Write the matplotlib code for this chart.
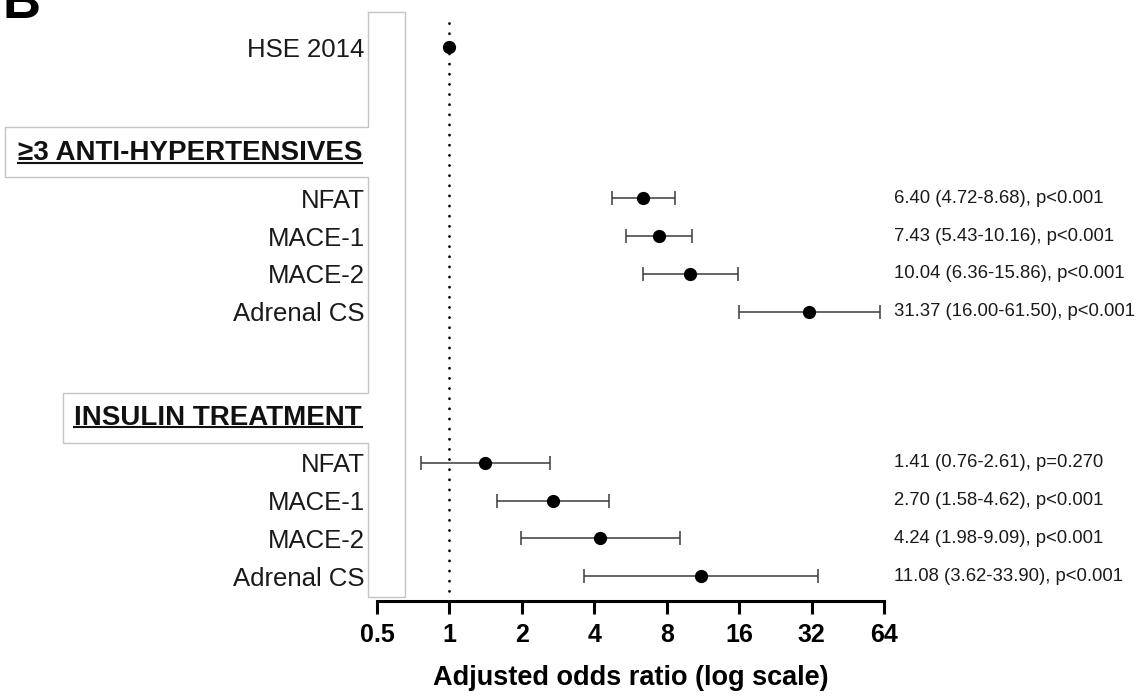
import numpy as np
import matplotlib
matplotlib.use('Agg')
import matplotlib.pyplot as plt
from matplotlib.lines import Line2D

plt.rcParams['font.family'] = ['Liberation Sans', 'DejaVu Sans']

# rows (top to bottom)
row_labels = ['HSE 2014',
              'NFAT', 'MACE-1', 'MACE-2', 'Adrenal CS',
              'NFAT', 'MACE-1', 'MACE-2', 'Adrenal CS']
row_pos = [0, 4, 5, 6, 7, 11, 12, 13, 14]
odds = [1.0, 6.40, 7.43, 10.04, 31.37, 1.41, 2.70, 4.24, 11.08]
ci_low = [1.0, 4.72, 5.43, 6.36, 16.00, 0.76, 1.58, 1.98, 3.62]
ci_high = [1.0, 8.68, 10.16, 15.86, 61.50, 2.61, 4.62, 9.09, 33.90]
p_text = ['', 'p<0.001', 'p<0.001', 'p<0.001', 'p<0.001',
          'p=0.270', 'p<0.001', 'p<0.001', 'p<0.001']
headers = ['≥3 ANTI-HYPERTENSIVES', 'INSULIN TREATMENT']
header_pos = [3, 10]
xticks = [0.5, 1, 2, 4, 8, 16, 32, 64]

W, H = 1142, 696
fig = plt.figure(figsize=(W / 100, H / 100), dpi=100)
ax = fig.add_axes([377 / W, 1 - 601 / H, (884 - 377) / W, (601 - 12) / H])
axw = 884 - 377


def px(x, y):
    return x / W, 1 - y / H


# grey label box outline
box = [(368, 12), (405, 12), (405, 597), (368, 597), (368, 443), (63, 443),
       (63, 393), (368, 393), (368, 177), (5, 177), (5, 127), (368, 127), (368, 12)]
bx, by = zip(*[px(x, y) for x, y in box])
fig.add_artist(Line2D(bx, by, color='#c4c4c4', lw=1.0, transform=fig.transFigure))

ax.set_xscale('log', base=2)
ax.set_xlim(0.5, 64)
ax.set_ylim(14.66, -0.93)

ax.plot([1, 1], [-0.65, 14.45], color='black', lw=2.0,
        linestyle=(0, (0.05, 3.6)), dash_capstyle='round', zorder=1)

odds = np.array(odds)
err = np.array([odds - np.array(ci_low), np.array(ci_high) - odds])
ax.errorbar(odds[1:], row_pos[1:], xerr=err[:, 1:], fmt='none', ecolor='#3a3a3a',
            elinewidth=1.1, capsize=5, capthick=1.1, zorder=2)
ax.plot(odds, row_pos, 'o', color='black', markersize=8.5, zorder=3)

for i in range(1, len(odds)):
    ax.text(1 + 10 / axw, row_pos[i],
            f'{odds[i]:.2f} ({ci_low[i]:.2f}-{ci_high[i]:.2f}), {p_text[i]}',
            transform=ax.get_yaxis_transform(), va='center', ha='left',
            fontsize=13.3, color='#1a1a1a', clip_on=False)

ax.set_yticks(row_pos)
ax.set_yticklabels(row_labels, fontsize=18.5, color='#1a1a1a')
ax.tick_params(axis='y', length=0, pad=9)

ax.set_xticks(xticks)
ax.set_xticklabels([f'{t:g}' for t in xticks], fontsize=18, fontweight='bold')
ax.xaxis.set_minor_locator(matplotlib.ticker.NullLocator())
ax.tick_params(axis='x', length=9.6, width=2.2, pad=6.5)
ax.set_xlabel('Adjusted odds ratio (log scale)', fontsize=19.5, fontweight='bold', labelpad=13)

for s in ['top', 'right', 'left']:
    ax.spines[s].set_visible(False)
ax.spines['bottom'].set_linewidth(2.2)

hdr_texts = []
for h, yp in zip(headers, header_pos):
    t = ax.text(-15 / axw, yp, h,
                transform=ax.get_yaxis_transform(), ha='right', va='baseline',
                fontsize=20, fontweight='bold', color='#111111', clip_on=False)
    hdr_texts.append(t)

fig.text(3 / W, 1 - 18 / H, 'B', fontsize=38, fontweight='bold', va='baseline')

# underline headers
fig.canvas.draw()
r = fig.canvas.get_renderer()
for t in hdr_texts:
    bb = t.get_window_extent(r)
    yb = ax.transData.transform((1, t.get_position()[1]))[1] - 2.5
    fig.add_artist(Line2D([bb.x0 / W, bb.x1 / W], [yb / H, yb / H], color='#111111',
                          lw=1.5, transform=fig.transFigure))

plt.savefig('out.png', dpi=100)
